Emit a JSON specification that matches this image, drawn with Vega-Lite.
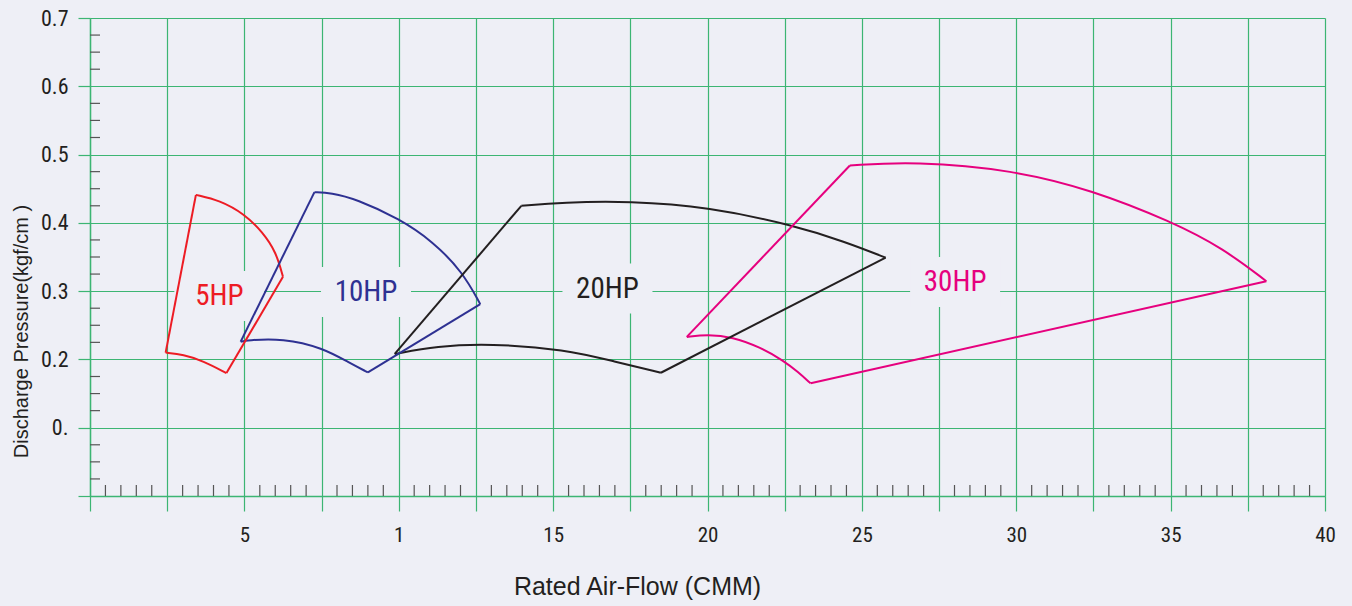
{
  "$schema": "https://vega.github.io/schema/vega-lite/v6.json",
  "width": 1235,
  "height": 478,
  "autosize": "none",
  "padding": {"left": 90, "top": 18, "right": 27, "bottom": 110},
  "background": "#eeeff6",
  "config": {"view": {"stroke": null}},
  "datasets": {
    "arcs": [
      {"shape": "5HP", "seg": "5HP-top", "x": 3.43, "y": 0.441},
      {"shape": "5HP", "seg": "5HP-top", "x": 4.20, "y": 0.433},
      {"shape": "5HP", "seg": "5HP-top", "x": 5.00, "y": 0.413},
      {"shape": "5HP", "seg": "5HP-top", "x": 5.60, "y": 0.386},
      {"shape": "5HP", "seg": "5HP-top", "x": 6.03, "y": 0.357},
      {"shape": "5HP", "seg": "5HP-top", "x": 6.25, "y": 0.321},
      {"shape": "5HP", "seg": "5HP-bot", "x": 2.45, "y": 0.210},
      {"shape": "5HP", "seg": "5HP-bot", "x": 3.02, "y": 0.207},
      {"shape": "5HP", "seg": "5HP-bot", "x": 3.66, "y": 0.198},
      {"shape": "5HP", "seg": "5HP-bot", "x": 4.42, "y": 0.180},
      {"shape": "10HP", "seg": "10HP-top", "x": 7.27, "y": 0.445},
      {"shape": "10HP", "seg": "10HP-top", "x": 7.80, "y": 0.444},
      {"shape": "10HP", "seg": "10HP-top", "x": 8.62, "y": 0.435},
      {"shape": "10HP", "seg": "10HP-top", "x": 10.02, "y": 0.406},
      {"shape": "10HP", "seg": "10HP-top", "x": 11.10, "y": 0.373},
      {"shape": "10HP", "seg": "10HP-top", "x": 12.07, "y": 0.328},
      {"shape": "10HP", "seg": "10HP-top", "x": 12.64, "y": 0.281},
      {"shape": "10HP", "seg": "10HP-bot", "x": 4.88, "y": 0.226},
      {"shape": "10HP", "seg": "10HP-bot", "x": 5.06, "y": 0.228},
      {"shape": "10HP", "seg": "10HP-bot", "x": 6.25, "y": 0.231},
      {"shape": "10HP", "seg": "10HP-bot", "x": 7.54, "y": 0.217},
      {"shape": "10HP", "seg": "10HP-bot", "x": 8.40, "y": 0.195},
      {"shape": "10HP", "seg": "10HP-bot", "x": 9.00, "y": 0.181},
      {"shape": "20HP", "seg": "20HP-top", "x": 13.97, "y": 0.425},
      {"shape": "20HP", "seg": "20HP-top", "x": 15.31, "y": 0.430},
      {"shape": "20HP", "seg": "20HP-top", "x": 17.47, "y": 0.432},
      {"shape": "20HP", "seg": "20HP-top", "x": 20.05, "y": 0.423},
      {"shape": "20HP", "seg": "20HP-top", "x": 22.75, "y": 0.397},
      {"shape": "20HP", "seg": "20HP-top", "x": 24.47, "y": 0.372},
      {"shape": "20HP", "seg": "20HP-top", "x": 25.77, "y": 0.349},
      {"shape": "20HP", "seg": "20HP-bot", "x": 9.87, "y": 0.208},
      {"shape": "20HP", "seg": "20HP-bot", "x": 11.22, "y": 0.2195},
      {"shape": "20HP", "seg": "20HP-bot", "x": 12.94, "y": 0.2234},
      {"shape": "20HP", "seg": "20HP-bot", "x": 15.42, "y": 0.2146},
      {"shape": "20HP", "seg": "20HP-bot", "x": 16.93, "y": 0.1976},
      {"shape": "20HP", "seg": "20HP-bot", "x": 18.49, "y": 0.1805},
      {"shape": "30HP", "seg": "30HP-top", "x": 24.61, "y": 0.484},
      {"shape": "30HP", "seg": "30HP-top", "x": 26.70, "y": 0.490},
      {"shape": "30HP", "seg": "30HP-top", "x": 29.90, "y": 0.4775},
      {"shape": "30HP", "seg": "30HP-top", "x": 32.46, "y": 0.448},
      {"shape": "30HP", "seg": "30HP-top", "x": 35.02, "y": 0.402},
      {"shape": "30HP", "seg": "30HP-top", "x": 36.69, "y": 0.363},
      {"shape": "30HP", "seg": "30HP-top", "x": 38.10, "y": 0.3146},
      {"shape": "30HP", "seg": "30HP-bot", "x": 19.33, "y": 0.233},
      {"shape": "30HP", "seg": "30HP-bot", "x": 20.00, "y": 0.2366},
      {"shape": "30HP", "seg": "30HP-bot", "x": 20.81, "y": 0.233},
      {"shape": "30HP", "seg": "30HP-bot", "x": 21.70, "y": 0.218},
      {"shape": "30HP", "seg": "30HP-bot", "x": 22.47, "y": 0.198},
      {"shape": "30HP", "seg": "30HP-bot", "x": 22.92, "y": 0.182},
      {"shape": "30HP", "seg": "30HP-bot", "x": 23.34, "y": 0.165}
    ],
    "edges": [
      {"shape": "5HP", "seg": "5HP-l", "o": 1, "x": 2.45, "y": 0.210},
      {"shape": "5HP", "seg": "5HP-l", "o": 2, "x": 3.43, "y": 0.441},
      {"shape": "5HP", "seg": "5HP-r", "o": 1, "x": 6.25, "y": 0.321},
      {"shape": "5HP", "seg": "5HP-r", "o": 2, "x": 4.42, "y": 0.180},
      {"shape": "10HP", "seg": "10HP-l", "o": 1, "x": 4.88, "y": 0.226},
      {"shape": "10HP", "seg": "10HP-l", "o": 2, "x": 7.27, "y": 0.445},
      {"shape": "10HP", "seg": "10HP-r", "o": 1, "x": 12.64, "y": 0.281},
      {"shape": "10HP", "seg": "10HP-r", "o": 2, "x": 9.00, "y": 0.181},
      {"shape": "20HP", "seg": "20HP-l", "o": 1, "x": 9.87, "y": 0.208},
      {"shape": "20HP", "seg": "20HP-l", "o": 2, "x": 13.97, "y": 0.425},
      {"shape": "20HP", "seg": "20HP-r", "o": 1, "x": 25.77, "y": 0.349},
      {"shape": "20HP", "seg": "20HP-r", "o": 2, "x": 18.49, "y": 0.1805},
      {"shape": "30HP", "seg": "30HP-l", "o": 1, "x": 19.33, "y": 0.233},
      {"shape": "30HP", "seg": "30HP-l", "o": 2, "x": 24.61, "y": 0.484},
      {"shape": "30HP", "seg": "30HP-r", "o": 1, "x": 38.10, "y": 0.3146},
      {"shape": "30HP", "seg": "30HP-r", "o": 2, "x": 23.34, "y": 0.165}
    ],
    "labels": [
      {"shape": "5HP", "x": 4.19, "y": 0.293},
      {"shape": "10HP", "x": 8.94, "y": 0.2987},
      {"shape": "20HP", "x": 16.76, "y": 0.3038},
      {"shape": "30HP", "x": 28.02, "y": 0.3133}
    ],
    "xminor": [
      {"v": 0.5}, {"v": 1}, {"v": 1.5}, {"v": 2}, {"v": 3}, {"v": 3.5}, {"v": 4}, {"v": 4.5},
      {"v": 5.5}, {"v": 6}, {"v": 6.5}, {"v": 7}, {"v": 8}, {"v": 8.5}, {"v": 9}, {"v": 9.5},
      {"v": 10.5}, {"v": 11}, {"v": 11.5}, {"v": 12}, {"v": 13}, {"v": 13.5}, {"v": 14}, {"v": 14.5},
      {"v": 15.5}, {"v": 16}, {"v": 16.5}, {"v": 17}, {"v": 18}, {"v": 18.5}, {"v": 19}, {"v": 19.5},
      {"v": 20.5}, {"v": 21}, {"v": 21.5}, {"v": 22}, {"v": 23}, {"v": 23.5}, {"v": 24}, {"v": 24.5},
      {"v": 25.5}, {"v": 26}, {"v": 26.5}, {"v": 27}, {"v": 28}, {"v": 28.5}, {"v": 29}, {"v": 29.5},
      {"v": 30.5}, {"v": 31}, {"v": 31.5}, {"v": 32}, {"v": 33}, {"v": 33.5}, {"v": 34}, {"v": 34.5},
      {"v": 35.5}, {"v": 36}, {"v": 36.5}, {"v": 37}, {"v": 38}, {"v": 38.5}, {"v": 39}, {"v": 39.5}
    ],
    "yminor": [
      {"v": 0.025}, {"v": 0.05}, {"v": 0.075}, {"v": 0.125}, {"v": 0.15}, {"v": 0.175},
      {"v": 0.225}, {"v": 0.25}, {"v": 0.275}, {"v": 0.325}, {"v": 0.35}, {"v": 0.375},
      {"v": 0.425}, {"v": 0.45}, {"v": 0.475}, {"v": 0.525}, {"v": 0.55}, {"v": 0.575},
      {"v": 0.625}, {"v": 0.65}, {"v": 0.675}
    ]
  },
  "layer": [
    {
      "data": {"name": "labels"},
      "mark": {"type": "point", "shape": "M-1.8,-1L1.8,-1L1.8,1L-1.8,1Z", "filled": true, "fill": "#eeeff6", "opacity": 1, "strokeWidth": 0, "size": 2500},
      "encoding": {
        "x": {"field": "x", "type": "quantitative", "scale": {"domain": [0, 40], "nice": false, "zero": false},
          "axis": {
            "values": [0, 2.5, 5, 7.5, 10, 12.5, 15, 17.5, 20, 22.5, 25, 27.5, 30, 32.5, 35, 37.5, 40],
            "labelExpr": "datum.value == 10 ? '1' : (datum.value > 0 && datum.value % 5 == 0 ? '' + datum.value : '')",
            "grid": true, "gridColor": "#3cb573", "gridWidth": 1.2, "gridOpacity": 1,
            "domain": true, "domainColor": "#3cb573", "domainWidth": 1.4,
            "ticks": true, "tickColor": "#3cb573", "tickSize": 15, "tickWidth": 1.2,
            "labelFont": "Liberation Sans Narrow, Roboto Condensed, DejaVu Sans Condensed, Liberation Sans, Arial, sans-serif", "labelFontSize": 21, "labelColor": "#231f20",
            "labelBaseline": "alphabetic", "labelPadding": 30, "labelFlush": false, "labelOverlap": false,
            "title": "Rated Air-Flow (CMM)", "titleFont": "Liberation Sans", "titleFontSize": 25,
            "titleFontWeight": "normal", "titleColor": "#231f20",
            "titleX": 547, "titleY": 98, "titleBaseline": "alphabetic", "titleAlign": "center"
          }},
        "y": {"field": "y", "type": "quantitative", "scale": {"domain": [0, 0.7], "nice": false},
          "axis": {
            "values": [0, 0.1, 0.2, 0.3, 0.4, 0.5, 0.6, 0.7],
            "labelExpr": "datum.value < 0.05 ? '' : (datum.value < 0.15 ? '0.' : format(datum.value, '.1f'))",
            "grid": true, "gridColor": "#3cb573", "gridWidth": 1.2, "gridOpacity": 1,
            "domain": true, "domainColor": "#3cb573", "domainWidth": 1.4,
            "ticks": true, "tickColor": "#3cb573", "tickSize": 12, "tickWidth": 1.2,
            "labelFont": "Liberation Sans Narrow, Roboto Condensed, DejaVu Sans Condensed, Liberation Sans, Arial, sans-serif", "labelFontSize": 22, "labelColor": "#231f20",
            "labelPadding": 10, "labelFlush": false, "labelOverlap": false,
            "title": "Discharge Pressure(kgf/cm )", "titleFont": "Liberation Sans", "titleFontSize": 20,
            "titleFontWeight": "normal", "titleColor": "#231f20",
            "titleX": -63, "titleY": 313, "titleBaseline": "alphabetic", "titleAlign": "center", "titleAngle": -90
          }}
      }
    },
    {
      "data": {"name": "xminor"},
      "mark": {"type": "tick", "orient": "vertical", "size": 11, "thickness": 1.2, "color": "#555555", "opacity": 1, "yOffset": -5.5},
      "encoding": {
        "x": {"field": "v", "type": "quantitative"},
        "y": {"datum": 0, "type": "quantitative"}
      }
    },
    {
      "data": {"name": "yminor"},
      "mark": {"type": "tick", "orient": "horizontal", "size": 10, "thickness": 1.2, "color": "#555555", "opacity": 1, "xOffset": 5},
      "encoding": {
        "y": {"field": "v", "type": "quantitative"},
        "x": {"datum": 0, "type": "quantitative"}
      }
    },
    {
      "data": {"name": "arcs"},
      "mark": {"type": "line", "interpolate": "basis", "strokeWidth": 2},
      "encoding": {
        "x": {"field": "x", "type": "quantitative"},
        "y": {"field": "y", "type": "quantitative"},
        "detail": {"field": "seg"},
        "order": {"field": "x", "type": "quantitative"},
        "color": {"field": "shape", "type": "nominal", "legend": null,
          "scale": {"domain": ["5HP", "10HP", "20HP", "30HP"], "range": ["#ed1c24", "#2e3192", "#231f20", "#e6007e"]}}
      }
    },
    {
      "data": {"name": "edges"},
      "mark": {"type": "line", "strokeWidth": 2},
      "encoding": {
        "x": {"field": "x", "type": "quantitative"},
        "y": {"field": "y", "type": "quantitative"},
        "detail": {"field": "seg"},
        "order": {"field": "o", "type": "quantitative"},
        "color": {"field": "shape", "type": "nominal", "legend": null}
      }
    },
    {
      "data": {"name": "labels"},
      "mark": {"type": "text", "font": "Liberation Sans Narrow, Roboto Condensed, DejaVu Sans Condensed, Liberation Sans, Arial, sans-serif", "fontSize": 29, "baseline": "middle", "align": "center"},
      "encoding": {
        "x": {"field": "x", "type": "quantitative"},
        "y": {"field": "y", "type": "quantitative"},
        "text": {"field": "shape"},
        "color": {"field": "shape", "type": "nominal", "legend": null}
      }
    }
  ]
}
